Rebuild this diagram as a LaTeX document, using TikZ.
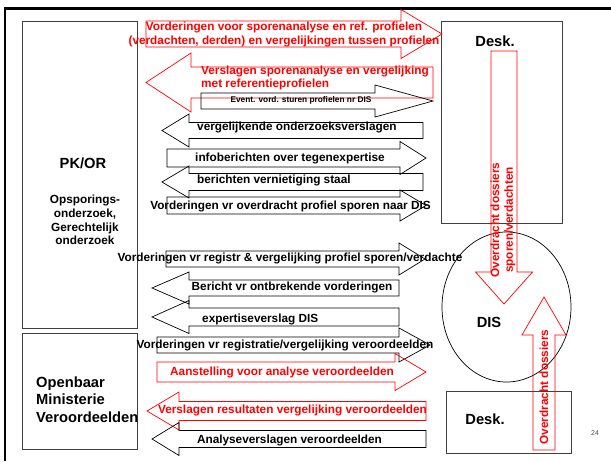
\documentclass[tikz,border=0pt]{standalone}
\usepackage{fontspec}
\setmainfont{Liberation Sans}
\usetikzlibrary{shapes.geometric}
\tikzstyle{kasten}=[draw=black!75, line width=0.8pt]
\tikzstyle{pfeiltext}=[font=\fontsize{11.8}{13.8}\selectfont\bfseries, inner sep=0pt]
\tikzstyle{titel}=[font=\fontsize{14.7}{17.5}\selectfont\bfseries, inner sep=0pt]
% Blockpfeil waagerecht: Farbe, Schaftende, Spitzenansatz, Spitze, Mitte, halbe Schaft-, halbe Kopfbreite
\newcommand{\pfeil}[7][black]{\draw[#1, line width=0.7pt] (#2,#5-#6) -- (#3,#5-#6) -- (#3,#5-#7) -- (#4,#5) -- (#3,#5+#7) -- (#3,#5+#6) -- (#2,#5+#6) -- cycle;}
% Blockpfeil senkrecht
\newcommand{\vpfeil}[7][red]{\draw[#1, line width=0.7pt] (#5-#6,#2) -- (#5-#6,#3) -- (#5-#7,#3) -- (#5,#4) -- (#5+#7,#3) -- (#5+#6,#3) -- (#5+#6,#2) -- cycle;}

\begin{document}
\begin{tikzpicture}[x=1pt, y=-1pt]
			\useasboundingbox (0,0) rectangle (611,461);
			% Rahmen zeichnen
			\draw[line width=2.6pt] (5,461) -- (5,8.7) -- (611,8.7);
			% Kaesten zeichnen
			\node[kasten, minimum width=115pt, minimum height=307pt] (pkor) at (79.5,174.5) {};
			\node[kasten, minimum width=115pt, minimum height=116pt] (om) at (79.5,391) {};
			\node[kasten, minimum width=121pt, minimum height=202pt] (desk1) at (501.5,122) {};
			\node[kasten, minimum width=125pt, minimum height=62pt] (desk2) at (508.5,422) {};
			\node[draw, line width=0.7pt, ellipse, minimum width=129pt, minimum height=150pt] (dis) at (506.5,307) {};
			% Pfeile zeichnen
			\pfeil[red]{146}{401}{442}{34}{13}{24.5}
			\pfeil[red]{433}{191}{146}{82.5}{15.5}{29.5}
			\pfeil{201}{375}{433}{101}{8}{16}
			\pfeil{423}{189}{162}{130.5}{8}{16.5}
			\pfeil{167}{400}{426}{158}{9}{16.5}
			\pfeil{423}{189}{162}{182}{8.5}{16}
			\pfeil{167}{400}{426}{205.5}{8.5}{15.5}
			\pfeil{166}{399}{425}{259}{8}{16}
			\pfeil{399}{189}{152}{288}{8}{16}
			\pfeil{399}{189}{152}{317}{9}{16.5}
			\pfeil{157}{399}{430}{345}{8}{17}
			\pfeil[red]{157}{395}{426}{372}{10}{18.5}
			\pfeil[red]{426}{179}{147}{411}{9.5}{19}
			\pfeil{426}{179}{152}{439}{8.5}{16.5}
			\vpfeil{51}{272}{304}{504}{13}{28.5}
			\vpfeil{450}{335}{297}{544}{11}{22}
			% Beschriftung
			\node[titel] (pkortitel) at (83,163) {PK/OR};
			\node[pfeiltext, align=center] (pkortext) at (85,220) {Opsporings-\\onderzoek,\\Gerechtelijk\\onderzoek};
			\node[titel, align=left, anchor=west] (omtext) at (36,399.5) {Openbaar\\Ministerie\\Veroordeelden};
			\node[titel] (desk1text) at (495,41) {Desk.};
			\node[titel] (desk2text) at (485,419) {Desk.};
			\node[titel] (distext) at (489,322) {DIS};
			\node[font=\fontsize{7}{8}\selectfont, text=black!70, inner sep=0pt] (nr) at (595,433) {24};
			\node[pfeiltext, text=red, align=center] (t1) at (284,34.5) {Vorderingen voor sporenanalyse en ref. profielen\\(verdachten, derden) en vergelijkingen tussen profielen};
			\node[pfeiltext, text=red, align=left, anchor=west] (t2) at (201,78) {Verslagen sporenanalyse en vergelijking\\met referentieprofielen};
			\node[font=\fontsize{8.3}{9}\selectfont\bfseries, inner sep=0pt] (t3) at (301,100) {Event. vord. sturen profielen nr DIS};
			\node[pfeiltext, anchor=west] (t4) at (197,127) {vergelijkende onderzoeksverslagen};
			\node[pfeiltext] (t5) at (290,158) {infoberichten over tegenexpertise};
			\node[pfeiltext, anchor=west] (t6) at (197,180) {berichten vernietiging staal};
			\node[pfeiltext] (t7) at (290.5,206) {Vorderingen vr overdracht profiel sporen naar DIS};
			\node[pfeiltext] (t8) at (290,258) {Vorderingen vr registr \& vergelijking profiel sporen/verdachte};
			\node[pfeiltext] (t9) at (292,287) {Bericht vr ontbrekende vorderingen};
			\node[pfeiltext, anchor=west] (t10) at (202,319) {expertiseverslag DIS};
			\node[pfeiltext] (t11) at (285,345) {Vorderingen vr registratie/vergelijking veroordeelden};
			\node[pfeiltext, text=red] (t12) at (282,372) {Aanstelling voor analyse veroordeelden};
			\node[pfeiltext, text=red] (t13) at (292.5,410) {Verslagen resultaten vergelijking veroordeelden};
			\node[pfeiltext] (t14) at (289.5,440) {Analyseverslagen veroordeelden};
			\node[pfeiltext, text=red, rotate=90, align=center] (t15) at (503,220) {Overdracht dossiers\\sporen/verdachten};
			\node[pfeiltext, text=red, rotate=90] (t16) at (544,387) {Overdracht dossiers};
		\end{tikzpicture}
\end{document}
